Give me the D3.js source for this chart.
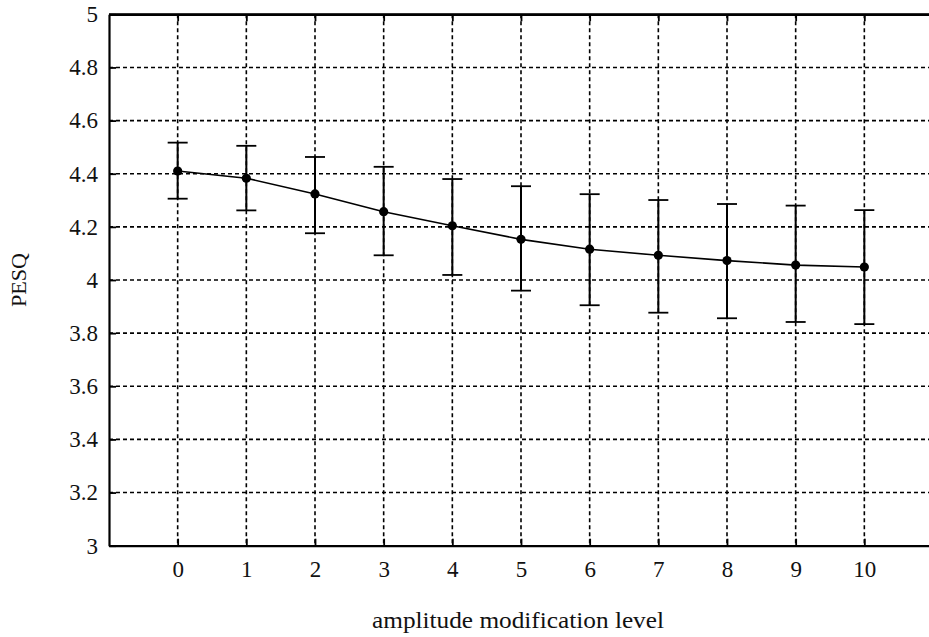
<!DOCTYPE html>
<html>
<head>
<meta charset="utf-8">
<script src="https://cdn.jsdelivr.net/npm/d3@7"></script>
<style>
  body { margin: 0; background: #fff; }
  text { font-family: "Liberation Serif", "DejaVu Serif", serif; fill: #111; }
</style>
</head>
<body>
<div id="graf"></div>
<script>
// Datos
const niveles = [0, 1, 2, 3, 4, 5, 6, 7, 8, 9, 10]
const media = [4.41, 4.383, 4.324, 4.257, 4.204, 4.153, 4.116, 4.093, 4.073, 4.056, 4.049]
const superior = [4.517, 4.505, 4.463, 4.426, 4.38, 4.353, 4.323, 4.301, 4.286, 4.28, 4.263]
const inferior = [4.306, 4.262, 4.176, 4.093, 4.019, 3.96, 3.905, 3.877, 3.856, 3.842, 3.834]
const yTicks = [3, 3.2, 3.4, 3.6, 3.8, 4, 4.2, 4.4, 4.6, 4.8, 5]

const data = niveles.map((n, i) => ({ n, m: media[i], hi: superior[i], lo: inferior[i] }))

// Dimensiones
const anchoTotal = 929
const altoTotal = 637
const margins = { top: 14.3, right: -4, bottom: 91.3, left: 109 }
const ancho = anchoTotal - margins.left - margins.right
const alto = altoTotal - margins.top - margins.bottom

const svg = d3.select("#graf")
  .append("svg")
  .attr("width", anchoTotal)
  .attr("height", altoTotal)

const g = svg.append("g")
  .attr("transform", `translate(${margins.left}, ${margins.top})`)

// Escaladores
const x = d3.scaleLinear().domain([-1, 11]).range([0, ancho])
const y = d3.scaleLinear().domain([3, 5]).range([alto, 0])

// Rejilla
g.append("g")
  .selectAll("line")
  .data(niveles)
  .join("line")
  .attr("x1", (d) => x(d))
  .attr("x2", (d) => x(d))
  .attr("y1", 0)
  .attr("y2", alto)
  .attr("stroke", "#000")
  .attr("stroke-width", 1.6)
  .attr("stroke-dasharray", "4,3")

g.append("g")
  .selectAll("line")
  .data(yTicks.slice(1, -1))
  .join("line")
  .attr("x1", 0)
  .attr("x2", ancho)
  .attr("y1", (d) => y(d))
  .attr("y2", (d) => y(d))
  .attr("stroke", "#000")
  .attr("stroke-width", 1.6)
  .attr("stroke-dasharray", "4,3")

// Ejes
const xAxis = d3.axisBottom(x).tickValues(niveles).tickSizeInner(-7).tickSizeOuter(0).tickPadding(15)
const yAxis = d3.axisLeft(y).tickValues(yTicks).tickFormat(d3.format("")).tickSizeInner(-7).tickSizeOuter(0).tickPadding(11)

const xAxisGroup = g.append("g")
  .attr("transform", `translate(0, ${alto})`)
  .call(xAxis)
const yAxisGroup = g.append("g").call(yAxis)

g.append("g")
  .call(d3.axisTop(x).tickValues(niveles).tickSizeInner(-7).tickSizeOuter(0).tickFormat(""))

;[xAxisGroup, yAxisGroup].forEach((a) => {
  a.selectAll("text").style("font-size", "23px").style("font-family", '"Liberation Serif", serif').attr("fill", "#111")
})
g.selectAll(".domain").attr("stroke", "#000").attr("stroke-width", 2.2)
g.selectAll(".tick line").attr("stroke", "#000").attr("stroke-width", 1.8)

// Barras de error
const err = g.append("g").selectAll("g").data(data).join("g")
err.append("line")
  .attr("x1", (d) => x(d.n)).attr("x2", (d) => x(d.n))
  .attr("y1", (d) => y(d.hi)).attr("y2", (d) => y(d.lo))
  .attr("stroke", "#000").attr("stroke-width", 2)
err.append("line")
  .attr("x1", (d) => x(d.n) - 10).attr("x2", (d) => x(d.n) + 10)
  .attr("y1", (d) => y(d.hi)).attr("y2", (d) => y(d.hi))
  .attr("stroke", "#000").attr("stroke-width", 1.8)
err.append("line")
  .attr("x1", (d) => x(d.n) - 10).attr("x2", (d) => x(d.n) + 10)
  .attr("y1", (d) => y(d.lo)).attr("y2", (d) => y(d.lo))
  .attr("stroke", "#000").attr("stroke-width", 1.8)

// Linea y puntos
g.append("path")
  .datum(data)
  .attr("fill", "none")
  .attr("stroke", "#000")
  .attr("stroke-width", 1.6)
  .attr("d", d3.line().x((d) => x(d.n)).y((d) => y(d.m)))

g.append("g").selectAll("circle").data(data).join("circle")
  .attr("cx", (d) => x(d.n))
  .attr("cy", (d) => y(d.m))
  .attr("r", 4.6)
  .attr("fill", "#000")

// Borde superior
g.append("line")
  .attr("x1", 0).attr("x2", ancho)
  .attr("y1", 0).attr("y2", 0)
  .attr("stroke", "#000").attr("stroke-width", 2.2)

// Titulos de ejes
svg.append("text")
  .attr("x", 518)
  .attr("y", 628)
  .attr("text-anchor", "middle")
  .attr("textLength", 292)
  .attr("lengthAdjust", "spacingAndGlyphs")
  .style("font-size", "23px")
  .text("amplitude modification level")

svg.append("text")
  .attr("transform", "translate(26, 280) rotate(-90)")
  .attr("text-anchor", "middle")
  .attr("textLength", 54)
  .attr("lengthAdjust", "spacingAndGlyphs")
  .style("font-size", "22px")
  .text("PESQ")
</script>
</body>
</html>
